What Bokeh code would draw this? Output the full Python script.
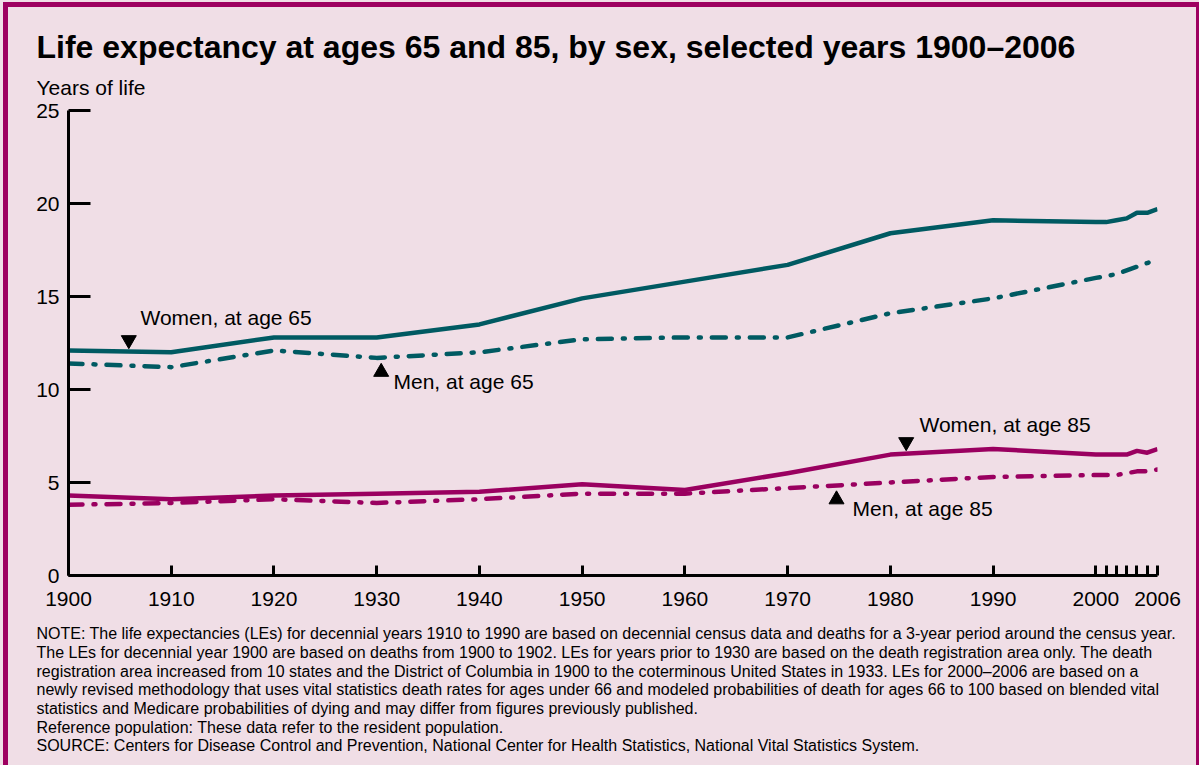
from bokeh.plotting import figure
from bokeh.models import Label, FixedTicker, ColumnDataSource
from bokeh.embed import file_html
from bokeh.resources import INLINE

# ---------------- data ----------------
years = [1900, 1910, 1920, 1930, 1940, 1950, 1960, 1970, 1980, 1990,
         2000, 2001, 2002, 2003, 2004, 2005, 2006]
women_65 = [12.1, 12.0, 12.8, 12.8, 13.5, 14.9, 15.8, 16.7, 18.4, 19.1,
            19.0, 19.0, 19.1, 19.2, 19.5, 19.5, 19.7]
men_65 = [11.4, 11.2, 12.1, 11.7, 12.0, 12.7, 12.8, 12.8, 14.1, 14.9,
          16.0, 16.1, 16.2, 16.4, 16.6, 16.8, 17.0]
women_85 = [4.3, 4.1, 4.3, 4.4, 4.5, 4.9, 4.6, 5.5, 6.5, 6.8,
            6.5, 6.5, 6.5, 6.5, 6.7, 6.6, 6.8]
men_85 = [3.8, 3.9, 4.1, 3.9, 4.1, 4.4, 4.4, 4.7, 5.0, 5.3,
          5.4, 5.4, 5.4, 5.5, 5.6, 5.6, 5.7]

x_ticks = [1900, 1910, 1920, 1930, 1940, 1950, 1960, 1970, 1980, 1990,
           2000, 2001, 2002, 2003, 2004, 2005, 2006]
x_tick_labels = ["1900", "1910", "1920", "1930", "1940", "1950", "1960", "1970",
                 "1980", "1990", "2000", "", "", "", "", "", "2006"]
y_ticks = [0, 5, 10, 15, 20, 25]

series_names = ["Women, at age 65", "Men, at age 65", "Women, at age 85", "Men, at age 85"]

title_text = "Life expectancy at ages 65 and 85, by sex, selected years 1900\u20132006"
y_title = "Years of life"
notes = [
    "NOTE: The life expectancies (LEs) for decennial years 1910 to 1990 are based on decennial census data and deaths for a 3-year period around the census year.",
    "The LEs for decennial year 1900 are based on deaths from 1900 to 1902. LEs for years prior to 1930 are based on the death registration area only. The death",
    "registration area increased from 10 states and the District of Columbia in 1900 to the coterminous United States in 1933. LEs for 2000\u20132006 are based on a",
    "newly revised methodology that uses vital statistics death rates for ages under 66 and modeled probabilities of death for ages 66 to 100 based on blended vital",
    "statistics and Medicare probabilities of dying and may differ from figures previously published.",
    "Reference population: These data refer to the resident population.",
    "SOURCE: Centers for Disease Control and Prevention, National Center for Health Statistics, National Vital Statistics System.",
]

# ---------------- style ----------------
BG = "#F0DEE6"
BORDER = "#9E0060"
TEAL = "#005A62"
MAGENTA = "#9A0060"
FONT = "Liberation Sans"

W, H = 1199, 765
ML, MT = 68, 110
FW, FH = 1089, 465
MR = W - ML - FW
MB = H - MT - FH
X0, X1 = 1900, 2006
Y0, Y1 = 0, 25


def px2x(px):
    return X0 + (px - ML) * (X1 - X0) / FW


def py2y(py):
    return Y0 + (MT + FH - py) * (Y1 - Y0) / FH


p = figure(width=W, height=H, x_range=(X0, X1), y_range=(Y0, Y1),
           output_backend="svg", toolbar_location=None,
           min_border_left=ML, min_border_right=MR,
           min_border_top=MT, min_border_bottom=MB,
           background_fill_color=None, border_fill_color=None,
           outline_line_color=None)
# page background and the magenta frame (left, top, right) drawn behind the transparent canvas
p.styles = {
    "background-color": BG,
    "box-shadow": (f"inset 3px 2px 0 0 {BG}, inset 8px 7px 0 0 {BORDER}, "
                   f"inset -3px 0 0 0 {BORDER}"),
}
p.grid.visible = False

# axes
for ax in (p.xaxis, p.yaxis):
    ax.axis_line_width = 3
    ax.axis_line_color = "black"
    ax.major_tick_line_width = 3
    ax.major_tick_line_color = "black"
    ax.minor_tick_line_color = None
    ax.major_tick_out = 0
    ax.major_label_text_font = FONT
    ax.major_label_text_font_size = "21px"
    ax.major_label_text_color = "black"

p.xaxis.ticker = FixedTicker(ticks=x_ticks)
p.xaxis.major_label_overrides = {t: l for t, l in zip(x_ticks, x_tick_labels)}
p.xaxis.major_tick_in = 10
p.xaxis.major_label_standoff = 16

p.yaxis.ticker = FixedTicker(ticks=y_ticks)
p.yaxis.major_tick_in = 22
p.yaxis.major_label_standoff = 9

# lines
src = ColumnDataSource(dict(year=years, w65=women_65, m65=men_65, w85=women_85, m85=men_85))
dash = "14 11 2 11"
p.line("year", "w65", source=src, line_color=TEAL, line_width=4.5, line_join="round")
p.line("year", "m65", source=src, line_color=TEAL, line_width=4.5, line_dash=dash,
       line_cap="round", line_join="round")
p.line("year", "w85", source=src, line_color=MAGENTA, line_width=4.5, line_join="round")
p.line("year", "m85", source=src, line_color=MAGENTA, line_width=4.5, line_dash=dash,
       line_cap="round", line_join="round")

# pointers and series labels (canvas pixel positions)
pointer_px = [(128.3, 339.5, "inverted_triangle"), (380.7, 371.5, "triangle"),
              (905.7, 441.5, "inverted_triangle"), (836.0, 499.0, "triangle")]
label_px = [(140, 317), (393, 381), (919, 424), (852, 507.5)]

for (px, py, mk) in pointer_px:
    p.scatter([px2x(px)], [py2y(py)], marker=mk, size=15, color="black")

for name, (px, py) in zip(series_names, label_px):
    p.add_layout(Label(x=px2x(px), y=py2y(py), text=name, text_font=FONT,
                       text_font_size="21px", text_baseline="middle",
                       text_align="left", text_color="black"))

# title and y title (canvas units, in the side panel so they are not clipped)
p.add_layout(Label(x=36, y=46, x_units="canvas", y_units="canvas", text=title_text,
                   text_font=FONT, text_font_size="32px", text_font_style="bold",
                   text_baseline="alphabetic", text_color="black"), "above")
p.add_layout(Label(x=36, y=87, x_units="canvas", y_units="canvas", text=y_title,
                   text_font=FONT, text_font_size="21px", text_baseline="alphabetic",
                   text_color="black"), "above")

# notes
note_baselines = [633, 652, 670.5, 689, 708, 726.5, 745]
for t, b in zip(notes, note_baselines):
    p.add_layout(Label(x=36, y=b, x_units="canvas", y_units="canvas", text=t,
                       text_font=FONT, text_font_size="16px",
                       text_baseline="alphabetic", text_color="black"), "below")

open("out.html", "w").write(file_html(p, INLINE))
